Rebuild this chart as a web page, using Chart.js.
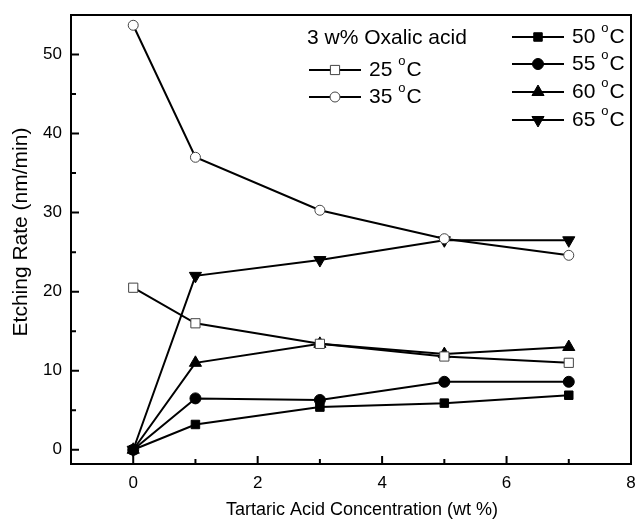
<!DOCTYPE html>
<html>
<head>
<meta charset="utf-8">
<title>Etching Rate vs Tartaric Acid</title>
<script src="https://cdn.jsdelivr.net/npm/chart.js@4.4.1/dist/chart.umd.min.js"></script>
<style>
  html, body { margin: 0; padding: 0; background: #fff; }
  #wrap { width: 639px; height: 524px; position: relative; }
</style>
</head>
<body>
<div id="wrap"><canvas id="etchChart"></canvas></div>
<script>
// tartaric acid concentration (wt %) and etching rates (nm/min)
var concentrations = [0, 1, 3, 5, 7];
var rate25 = [20.5, 16.0, 13.4, 11.8, 11.0];
var rate35 = [53.7, 37.0, 30.3, 26.7, 24.6];
var rate50 = [0, 3.2, 5.4, 5.9, 6.9];
var rate55 = [0, 6.5, 6.3, 8.6, 8.6];
var rate60 = [0, 11.0, 13.4, 12.1, 13.0];
var rate65 = [0, 22.0, 24.0, 26.5, 26.5];

var xTicks = [0, 2, 4, 6, 8];
var yTicks = [0, 10, 20, 30, 40, 50];
var xMinor = [1, 3, 5, 7];
var yMinor = [5, 15, 25, 35, 45];

var noteText = "3 w% Oxalic acid";
var tempLabels = ["25", "35", "50", "55", "60", "65"];
var xTitle = "Tartaric Acid Concentration (wt %)";
var yTitle = "Etching Rate (nm/min)";

var FONT = "'Liberation Sans', Arial, Helvetica, sans-serif";

function pts(vals) {
  return vals.map(function (v, i) { return { x: concentrations[i], y: v }; });
}

function series(label, vals, style, open, radius, rot) {
  return {
    label: label,
    data: pts(vals),
    borderColor: '#000',
    borderWidth: 2,
    pointStyle: style,
    pointRotation: rot || 0,
    pointRadius: radius,
    pointHoverRadius: radius,
    pointBackgroundColor: open ? '#fff' : '#000',
    pointBorderColor: open ? '#444' : '#000',
    pointBorderWidth: 1,
    tension: 0,
    fill: false
  };
}

var datasets = [
  series(tempLabels[0], rate25, 'rect', true, 6.5),
  series(tempLabels[1], rate35, 'circle', true, 5),
  series(tempLabels[2], rate50, 'rect', false, 6),
  series(tempLabels[3], rate55, 'circle', false, 5.5),
  series(tempLabels[4], rate60, 'triangle', false, 7),
  series(tempLabels[5], rate65, 'triangle', false, 7, 180)
];

// small marker for the legend, same shapes Chart.js uses for points
function marker(ctx, ds, x, y) {
  var r = ds.pointRadius;
  ctx.save();
  ctx.fillStyle = ds.pointBackgroundColor;
  ctx.strokeStyle = ds.pointBorderColor;
  ctx.lineWidth = 1;
  ctx.beginPath();
  if (ds.pointStyle === 'rect') {
    var s = r * Math.SQRT1_2;
    ctx.rect(x - s, y - s, 2 * s, 2 * s);
  } else if (ds.pointStyle === 'circle') {
    ctx.arc(x, y, r, 0, Math.PI * 2);
  } else {
    var a = ds.pointRotation * Math.PI / 180;
    for (var k = 0; k < 3; k++) {
      var px = x + Math.sin(a) * r, py = y - Math.cos(a) * r;
      if (k === 0) ctx.moveTo(px, py); else ctx.lineTo(px, py);
      a += Math.PI * 2 / 3;
    }
    ctx.closePath();
  }
  ctx.fill();
  ctx.stroke();
  ctx.restore();
}

function tempText(ctx, t, x, y) {
  ctx.font = '21px ' + FONT;
  ctx.fillText(t + ' ', x, y);
  var w = ctx.measureText(t + ' ').width;
  ctx.font = '13px ' + FONT;
  ctx.fillText('o', x + w, y - 9);
  var w2 = ctx.measureText('o').width;
  ctx.font = '21px ' + FONT;
  ctx.fillText('C', x + w + w2 + 1, y);
}

var framePlugin = {
  id: 'frame',
  afterDatasetsDraw: function (chart) {
    var ctx = chart.ctx, a = chart.chartArea;
    var xs = chart.scales.x, ys = chart.scales.y;
    ctx.save();
    ctx.strokeStyle = '#000';
    ctx.lineWidth = 2;
    ctx.strokeRect(a.left, a.top, a.right - a.left, a.bottom - a.top);

    // inward tick marks
    ctx.beginPath();
    xTicks.forEach(function (v) {
      var px = xs.getPixelForValue(v);
      ctx.moveTo(px, a.bottom); ctx.lineTo(px, a.bottom - 8);
    });
    xMinor.forEach(function (v) {
      var px = xs.getPixelForValue(v);
      ctx.moveTo(px, a.bottom); ctx.lineTo(px, a.bottom - 5);
    });
    yTicks.forEach(function (v) {
      var py = ys.getPixelForValue(v);
      ctx.moveTo(a.left, py); ctx.lineTo(a.left + 8, py);
    });
    yMinor.forEach(function (v) {
      var py = ys.getPixelForValue(v);
      ctx.moveTo(a.left, py); ctx.lineTo(a.left + 5, py);
    });
    ctx.stroke();

    ctx.fillStyle = '#000';
    ctx.textBaseline = 'middle';
    ctx.textAlign = 'center';

    // axis titles
    ctx.font = '18px ' + FONT;
    ctx.fillText(xTitle, 362, 510);
    ctx.save();
    ctx.translate(21, 232);
    ctx.rotate(-Math.PI / 2);
    ctx.font = '21px ' + FONT;
    ctx.fillText(yTitle, 0, 0);
    ctx.restore();

    // legend block
    ctx.textAlign = 'left';
    ctx.font = '21px ' + FONT;
    ctx.fillText(noteText, 307, 38);

    var rows = [
      { ds: 0, x: 309, y: 70 },
      { ds: 1, x: 309, y: 97 },
      { ds: 2, x: 512, y: 37 },
      { ds: 3, x: 512, y: 64 },
      { ds: 4, x: 512, y: 92 },
      { ds: 5, x: 512, y: 120 }
    ];
    rows.forEach(function (row) {
      var ds = datasets[row.ds];
      ctx.lineWidth = 2;
      ctx.strokeStyle = '#000';
      ctx.beginPath();
      ctx.moveTo(row.x, row.y);
      ctx.lineTo(row.x + 52, row.y);
      ctx.stroke();
      marker(ctx, ds, row.x + 26, row.y);
      ctx.fillStyle = '#000';
      tempText(ctx, ds.label, row.x + 60, row.y);
    });
    ctx.restore();
  }
};

function noEdgePadding(scale) {
  scale.paddingLeft = 0;
  scale.paddingRight = 0;
  scale.paddingTop = 0;
  scale.paddingBottom = 0;
}

new Chart(document.getElementById('etchChart'), {
  type: 'line',
  data: { datasets: datasets },
  options: {
    responsive: true,
    maintainAspectRatio: false,
    animation: false,
    layout: { padding: { top: 15, right: 6, left: 0, bottom: 0 } },
    plugins: {
      legend: { display: false },
      tooltip: { enabled: false }
    },
    scales: {
      x: {
        type: 'linear',
        min: -1,
        max: 8,
        afterBuildTicks: function (scale) {
          scale.ticks = xTicks.map(function (v) { return { value: v }; });
        },
        afterFit: function (scale) { scale.height = 60; noEdgePadding(scale); },
        grid: { display: false, drawTicks: false },
        border: { display: false },
        ticks: { color: '#000', padding: 9, font: { family: FONT, size: 17 } }
      },
      y: {
        type: 'linear',
        min: -1.8,
        max: 55,
        afterBuildTicks: function (scale) {
          scale.ticks = yTicks.map(function (v) { return { value: v }; });
        },
        afterFit: function (scale) { scale.width = 71; noEdgePadding(scale); },
        grid: { display: false, drawTicks: false },
        border: { display: false },
        ticks: { color: '#000', padding: 9, font: { family: FONT, size: 17 } }
      }
    }
  },
  plugins: [framePlugin]
});
</script>
</body>
</html>
